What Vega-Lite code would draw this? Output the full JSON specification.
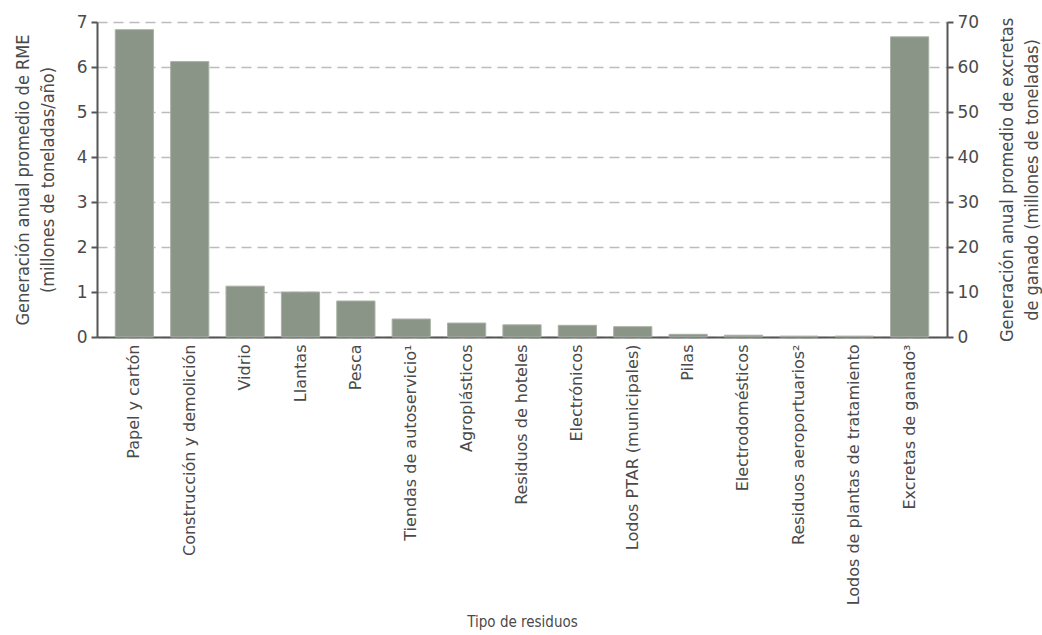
{
  "$schema": "https://vega.github.io/schema/vega-lite/v6.json",
  "width": 850,
  "height": 315,
  "autosize": {"type": "none"},
  "padding": {"left": 97, "top": 22, "right": 95, "bottom": 298},
  "background": "white",
  "config": {
    "font": "DejaVu Sans",
    "view": {"stroke": null},
    "axis": {
      "labelFont": "DejaVu Sans",
      "titleFont": "DejaVu Sans Condensed, Liberation Sans Narrow, Noto Sans",
      "labelColor": "#4a4a4a",
      "titleColor": "#4a4a4a",
      "titleFontWeight": "normal",
      "domainColor": "#555555",
      "domainWidth": 2,
      "tickColor": "#555555",
      "tickWidth": 2
    }
  },
  "data": {
    "values": [
      {"tipo": "Papel y cartón", "valor": 6.83, "eje": "RME"},
      {"tipo": "Construcción y demolición", "valor": 6.12, "eje": "RME"},
      {"tipo": "Vidrio", "valor": 1.13, "eje": "RME"},
      {"tipo": "Llantas", "valor": 1.0, "eje": "RME"},
      {"tipo": "Pesca", "valor": 0.8, "eje": "RME"},
      {"tipo": "Tiendas de autoservicio¹", "valor": 0.4, "eje": "RME"},
      {"tipo": "Agroplásticos", "valor": 0.31, "eje": "RME"},
      {"tipo": "Residuos de hoteles", "valor": 0.27, "eje": "RME"},
      {"tipo": "Electrónicos", "valor": 0.26, "eje": "RME"},
      {"tipo": "Lodos PTAR (municipales)", "valor": 0.23, "eje": "RME"},
      {"tipo": "Pilas", "valor": 0.06, "eje": "RME"},
      {"tipo": "Electrodomésticos", "valor": 0.04, "eje": "RME"},
      {"tipo": "Residuos aeroportuarios²", "valor": 0.02, "eje": "RME"},
      {"tipo": "Lodos de plantas de tratamiento", "valor": 0.02, "eje": "RME"},
      {"tipo": "Excretas de ganado³", "valor": 66.7, "eje": "Excretas"}
    ]
  },
  "encoding": {
    "x": {
      "field": "tipo",
      "type": "nominal",
      "sort": ["Papel y cartón", "Construcción y demolición", "Vidrio", "Llantas", "Pesca", "Tiendas de autoservicio¹", "Agroplásticos", "Residuos de hoteles", "Electrónicos", "Lodos PTAR (municipales)", "Pilas", "Electrodomésticos", "Residuos aeroportuarios²", "Lodos de plantas de tratamiento", "Excretas de ganado³"],
      "scale": {"paddingInner": 0.31, "paddingOuter": 0.33},
      "axis": {
        "title": "Tipo de residuos",
        "titleFontSize": 15,
        "titleY": 277,
        "titleBaseline": "top",
        "labelAngle": -90,
        "labelFontSize": 16,
        "labelPadding": 7,
        "ticks": false,
        "labelLimit": 300,
        "labelOverlap": false
      }
    }
  },
  "layer": [
    {
      "transform": [{"filter": "datum.eje === 'RME'"}],
      "mark": {"type": "bar", "color": "#8a9588", "stroke": "#a9b1a6", "strokeWidth": 1},
      "encoding": {
        "y": {
          "field": "valor",
          "type": "quantitative",
          "scale": {"domain": [0, 7], "nice": false},
          "axis": {
            "title": ["Generación anual promedio de RME", "(millones de toneladas/año)"],
            "titleFontSize": 18,
            "titleLineHeight": 25,
            "titlePadding": 19,
            "labelFontSize": 17,
            "labelPadding": 4,
            "labelOverlap": false,
            "values": [0, 1, 2, 3, 4, 5, 6, 7],
            "tickSize": 6,
            "grid": true,
            "gridDash": [10, 6],
            "gridColor": "#bcbcbc",
            "gridWidth": 1.5
          }
        }
      }
    },
    {
      "transform": [{"filter": "datum.eje === 'Excretas'"}],
      "mark": {"type": "bar", "color": "#8a9588", "stroke": "#a9b1a6", "strokeWidth": 1},
      "encoding": {
        "y": {
          "field": "valor",
          "type": "quantitative",
          "scale": {"domain": [0, 70], "nice": false},
          "axis": {
            "orient": "right",
            "title": ["Generación anual promedio de excretas", "de ganado (millones de toneladas)"],
            "titleAngle": 270,
            "titleFontSize": 18,
            "titleLineHeight": 25,
            "titlePadding": 13,
            "labelFontSize": 17,
            "labelPadding": 4,
            "labelOverlap": false,
            "values": [0, 10, 20, 30, 40, 50, 60, 70],
            "tickSize": 6,
            "grid": false
          }
        }
      }
    }
  ],
  "resolve": {"scale": {"y": "independent"}, "axis": {"y": "independent"}}
}
